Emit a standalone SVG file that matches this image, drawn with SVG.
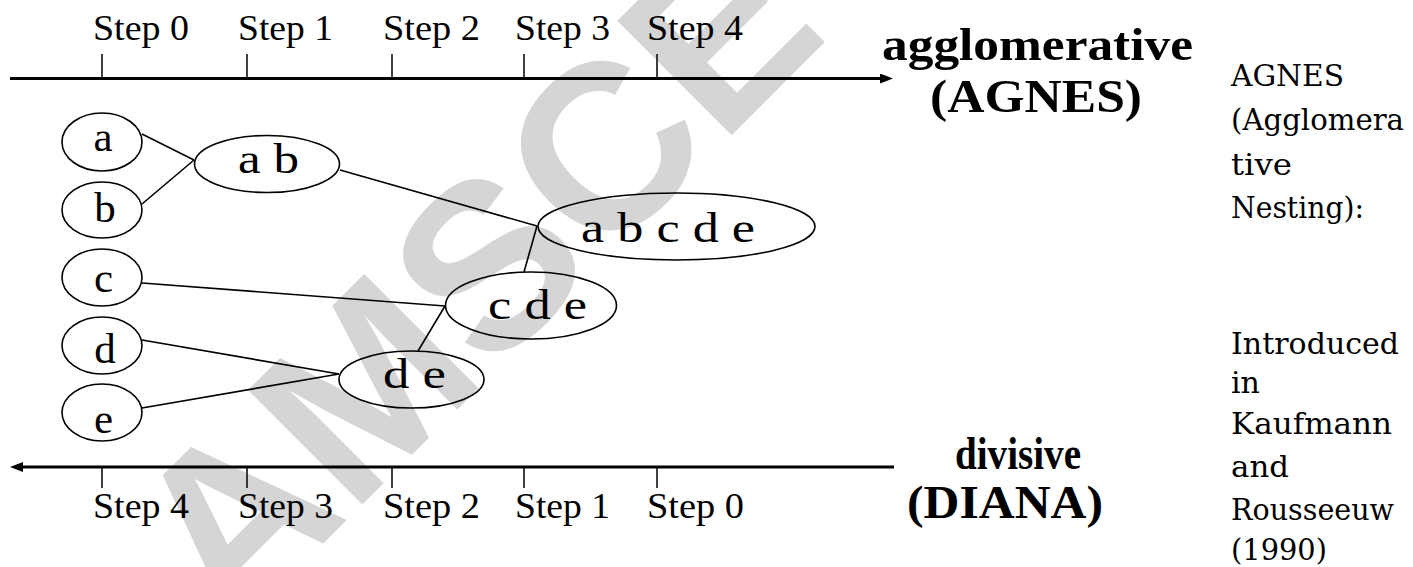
<svg xmlns="http://www.w3.org/2000/svg" width="1413" height="567" viewBox="0 0 1413 567">
  <style>
    .axis { stroke: #000; stroke-width: 3; fill: none; }
    .tick { stroke: #000; stroke-width: 1.5; }
    .step { font-family: "Liberation Serif", "Times New Roman", Times, serif; font-size: 35px; fill: #000; }
    .node ellipse { fill: none; stroke: #000; stroke-width: 1.6; }
    .node text { font-family: "Liberation Serif", "Times New Roman", Times, serif; font-size: 43px; fill: #000; }
    .edge { stroke: #000; stroke-width: 1.6; fill: none; }
    .title { font-family: "Liberation Serif", "Times New Roman", Times, serif; font-size: 46px; font-weight: bold; fill: #000; }
    .note { font-family: "DejaVu Serif", "Liberation Serif", serif; font-size: 29px; fill: #000; }
    .mark { font-family: "Liberation Sans", Arial, sans-serif; font-size: 235px; font-weight: bold; fill: #d5d5d5; }
  </style>
  <defs>
    <marker id="head" markerUnits="userSpaceOnUse" markerWidth="14" markerHeight="10" refX="0" refY="5" orient="auto" viewBox="0 0 14 10">
      <path d="M0,0 L13,5 L0,10 z" fill="#000"/>
    </marker>
  </defs>

  <rect width="1413" height="567" fill="#fff"/>

  <!-- watermark -->
  <text class="mark" transform="translate(472,276) rotate(-45)" text-anchor="middle" y="84">AMSCE</text>

  <!-- agglomerative axis -->
  <g id="axis-top">
    <line class="axis" x1="10" y1="78.5" x2="880" y2="78.5" marker-end="url(#head)"/>
    <line class="tick" x1="102" y1="54" x2="102" y2="78"/>
    <line class="tick" x1="247" y1="54" x2="247" y2="78"/>
    <line class="tick" x1="392" y1="54" x2="392" y2="78"/>
    <line class="tick" x1="524" y1="54" x2="524" y2="78"/>
    <line class="tick" x1="657" y1="54" x2="657" y2="78"/>
    <text class="step" x="93" y="40" textLength="96" lengthAdjust="spacingAndGlyphs">Step 0</text>
    <text class="step" x="238" y="40" textLength="95" lengthAdjust="spacingAndGlyphs">Step 1</text>
    <text class="step" x="383" y="40" textLength="97" lengthAdjust="spacingAndGlyphs">Step 2</text>
    <text class="step" x="515" y="40" textLength="95" lengthAdjust="spacingAndGlyphs">Step 3</text>
    <text class="step" x="647" y="40" textLength="96" lengthAdjust="spacingAndGlyphs">Step 4</text>
  </g>

  <!-- divisive axis -->
  <g id="axis-bottom">
    <line class="axis" x1="894" y1="467" x2="23" y2="467" marker-end="url(#head)"/>
    <line class="tick" x1="102" y1="467" x2="102" y2="488"/>
    <line class="tick" x1="247" y1="467" x2="247" y2="488"/>
    <line class="tick" x1="392" y1="467" x2="392" y2="488"/>
    <line class="tick" x1="524" y1="467" x2="524" y2="488"/>
    <line class="tick" x1="657" y1="467" x2="657" y2="488"/>
    <text class="step" x="93" y="518" textLength="96" lengthAdjust="spacingAndGlyphs">Step 4</text>
    <text class="step" x="238" y="518" textLength="95" lengthAdjust="spacingAndGlyphs">Step 3</text>
    <text class="step" x="383" y="518" textLength="97" lengthAdjust="spacingAndGlyphs">Step 2</text>
    <text class="step" x="515" y="518" textLength="95" lengthAdjust="spacingAndGlyphs">Step 1</text>
    <text class="step" x="647" y="518" textLength="97" lengthAdjust="spacingAndGlyphs">Step 0</text>
  </g>

  <!-- merge links -->
  <g id="connectors">
    <line class="edge" x1="142" y1="134" x2="194" y2="160"/>
    <line class="edge" x1="142" y1="204" x2="194" y2="160"/>
    <line class="edge" x1="340" y1="170" x2="537" y2="226"/>
    <line class="edge" x1="524" y1="272" x2="537" y2="226"/>
    <line class="edge" x1="142" y1="283" x2="445" y2="306"/>
    <line class="edge" x1="418" y1="351" x2="445" y2="306"/>
    <line class="edge" x1="142" y1="340" x2="339" y2="374"/>
    <line class="edge" x1="142" y1="408" x2="339" y2="374"/>
  </g>

  <!-- clusters -->
  <g id="node-a" class="node">
    <ellipse cx="102" cy="142" rx="40" ry="29"/>
    <text x="103" y="151" text-anchor="middle">a</text>
  </g>
  <g id="node-b" class="node">
    <ellipse cx="102" cy="210" rx="40" ry="28"/>
    <text x="105" y="222" text-anchor="middle">b</text>
  </g>
  <g id="node-c" class="node">
    <ellipse cx="102" cy="277.5" rx="40" ry="28.5"/>
    <text x="103.5" y="292" text-anchor="middle">c</text>
  </g>
  <g id="node-d" class="node">
    <ellipse cx="102" cy="345.5" rx="40" ry="28.5"/>
    <text x="105" y="363" text-anchor="middle">d</text>
  </g>
  <g id="node-e" class="node">
    <ellipse cx="102" cy="412.5" rx="40" ry="28.5"/>
    <text x="103.5" y="433" text-anchor="middle">e</text>
  </g>
  <g id="node-ab" class="node">
    <ellipse cx="267" cy="164" rx="72.5" ry="28.5"/>
    <text x="238" y="173" textLength="61" lengthAdjust="spacingAndGlyphs">a b</text>
  </g>
  <g id="node-de" class="node">
    <ellipse cx="411.5" cy="379.5" rx="72.5" ry="28.5"/>
    <text x="383" y="388" textLength="63" lengthAdjust="spacingAndGlyphs">d e</text>
  </g>
  <g id="node-cde" class="node">
    <ellipse cx="531" cy="305.5" rx="85.5" ry="33.5"/>
    <text x="488" y="319" textLength="99" lengthAdjust="spacingAndGlyphs">c d e</text>
  </g>
  <g id="node-abcde" class="node">
    <ellipse cx="676.5" cy="226.5" rx="138.5" ry="33.5"/>
    <text x="581" y="242" textLength="174" lengthAdjust="spacingAndGlyphs">a b c d e</text>
  </g>

  <!-- direction labels -->
  <g id="label-agnes">
    <text class="title" x="882" y="60" textLength="311" lengthAdjust="spacingAndGlyphs">agglomerative</text>
    <text class="title" x="930" y="112" textLength="212" lengthAdjust="spacingAndGlyphs">(AGNES)</text>
  </g>
  <g id="label-diana">
    <text class="title" x="955" y="469" textLength="126" lengthAdjust="spacingAndGlyphs">divisive</text>
    <text class="title" x="907" y="518" textLength="196" lengthAdjust="spacingAndGlyphs">(DIANA)</text>
  </g>

  <!-- side notes -->
  <g id="note-agnes">
    <text class="note" x="1231" y="86" textLength="113" lengthAdjust="spacingAndGlyphs">AGNES</text>
    <text class="note" x="1231" y="130" textLength="173" lengthAdjust="spacingAndGlyphs">(Agglomera</text>
    <text class="note" x="1231" y="175" textLength="61" lengthAdjust="spacingAndGlyphs">tive</text>
    <text class="note" x="1231" y="218" textLength="133" lengthAdjust="spacingAndGlyphs">Nesting):</text>
  </g>
  <g id="note-origin">
    <text class="note" x="1231" y="354" textLength="168" lengthAdjust="spacingAndGlyphs">Introduced</text>
    <text class="note" x="1231" y="393" textLength="29" lengthAdjust="spacingAndGlyphs">in</text>
    <text class="note" x="1231" y="434" textLength="161" lengthAdjust="spacingAndGlyphs">Kaufmann</text>
    <text class="note" x="1231" y="477" textLength="58" lengthAdjust="spacingAndGlyphs">and</text>
    <text class="note" x="1231" y="520" textLength="163" lengthAdjust="spacingAndGlyphs">Rousseeuw</text>
    <text class="note" x="1231" y="560" textLength="96" lengthAdjust="spacingAndGlyphs">(1990)</text>
  </g>
</svg>
